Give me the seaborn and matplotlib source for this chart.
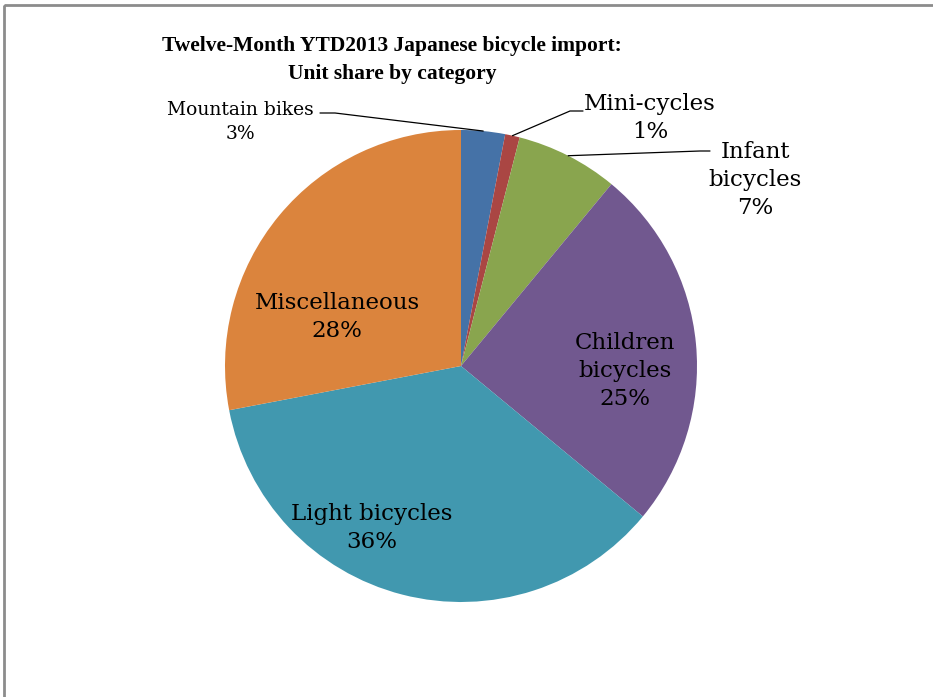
import numpy as np
import matplotlib
matplotlib.use("Agg")
import matplotlib.pyplot as plt
import matplotlib.patches as mpatches
import seaborn as sns

# Datos del gráfico
categories = ["Mountain bikes", "Mini-cycles", "Infant\nbicycles", "Children\nbicycles",
              "Light bicycles", "Miscellaneous"]
shares = [3, 1, 7, 25, 36, 28]
colors = ["#4572A7", "#AA4643", "#89A54E", "#71588F", "#4198AF", "#DB843D"]
title = "Twelve-Month YTD2013 Japanese bicycle import:\nUnit share by category"

sns.set_theme(style="white")
plt.rcParams['font.family'] = ['DejaVu Serif']
plt.rcParams['text.color'] = 'black'

W, H = 933, 697
fig = plt.figure(figsize=(W / 100, H / 100), dpi=100)
ax = fig.add_axes([0, 0, 1, 1])

cx, cy, r = 461, 366, 236
# y invertida: counterclock=True + startangle=-90 -> sentido horario visual desde arriba
wedges, _ = ax.pie(shares, colors=colors, center=(cx, cy), radius=r,
                   startangle=-90, counterclock=True, frame=True,
                   wedgeprops=dict(linewidth=0))
ax.set_xlim(0, W)
ax.set_ylim(H, 0)
ax.axis('off')

# marco gris
ax.add_patch(mpatches.Rectangle((4, 5), 1000, 1000, fill=False, edgecolor="#8c8c8c", lw=2))

# Etiquetas
label_pos = [(240, 122), (650, 118), (755, 180), (625, 371), (372, 528), (337, 317)]
label_size = [13.5, 16.5, 16.5, 16.5, 16.5, 16.5]
for cat, val, (x, y), fs in zip(categories, shares, label_pos, label_size):
    ax.text(x, y, f"{cat}\n{val}%", ha='center', va='center', fontsize=fs,
            linespacing=1.38, color='black')

# Líneas guía para las etiquetas externas
cum = np.cumsum([0] + shares)
ends = []
for i in range(3):
    mid = (cum[i] + cum[i + 1]) / 2 / 100 * 2 * np.pi
    ends.append((cx + r * np.sin(mid), cy - r * np.cos(mid)))
ax.plot([320, 335, ends[0][0]], [113, 113, ends[0][1]], color='black', lw=0.9)
ax.plot([583, 570, ends[1][0]], [111, 111, ends[1][1]], color='black', lw=0.9)
ax.plot([710, 700, ends[2][0]], [151, 151, ends[2][1]], color='black', lw=0.9)

ax.text(392, 60, title, ha='center', va='center', fontsize=15.5, fontweight='bold',
        family='Liberation Serif', linespacing=1.6)

fig.savefig("out.png", dpi=100)
